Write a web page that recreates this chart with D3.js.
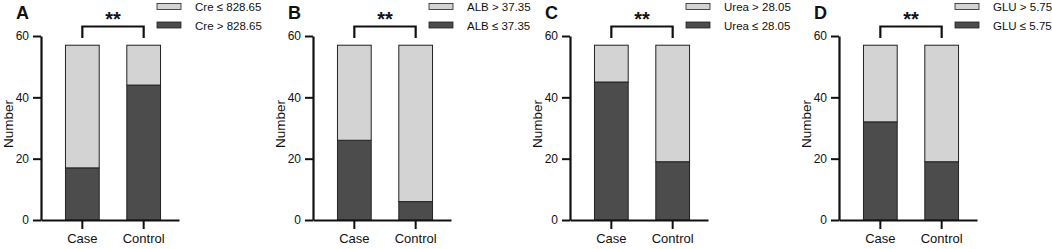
<!DOCTYPE html>
<html>
<head>
<meta charset="utf-8">
<script src="https://cdn.jsdelivr.net/npm/d3@7"></script>
<style>
  body { margin: 0; background: #fff; }
  text { font-family: "Liberation Sans", Arial, sans-serif; fill: #111; }
</style>
</head>
<body>
<div id="chart"></div>
<script>
// group names on the x axis
const groups = ["Case", "Control"];
const panelLetters = ["A", "B", "C", "D"];
// counts per panel: [Case, Control]
const darkCounts = [[17, 44], [26, 6], [45, 19], [32, 19]];
const lightCounts = [[40, 13], [31, 51], [12, 38], [25, 38]];
const lightLabels = ["Cre \u2264 828.65", "ALB > 37.35", "Urea > 28.05", "GLU > 5.75"];
const darkLabels = ["Cre > 828.65", "ALB \u2264 37.35", "Urea \u2264 28.05", "GLU \u2264 5.75"];
const sigLabels = ["**", "**", "**", "**"];
const yTicks = [0, 20, 40, 60];

const W = 1052, H = 249;
const axisLeft = [41, 313, 570, 839];   // x of each panel's y axis
const plotW = 138;
const plotTop = 36, plotBottom = 220;
const lightColor = "#d3d3d3", darkColor = "#4c4c4c", ink = "#111";

const svg = d3.select("#chart").append("svg")
  .attr("width", W)
  .attr("height", H);

const y = d3.scaleLinear().domain([0, 60]).range([plotBottom, plotTop]);

function drawPanel(p) {
  const g = svg.append("g").attr("transform", `translate(${axisLeft[p]},0)`);

  const x = d3.scaleBand()
    .domain(groups)
    .range([0, plotW])
    .paddingInner(0.45)
    .paddingOuter(0.35)
    .align(0.57);

  const rows = groups.map((grp, i) => ({ group: grp, dark: darkCounts[p][i], light: lightCounts[p][i] }));
  const stacked = d3.stack().keys(["dark", "light"])(rows);
  const fills = { dark: darkColor, light: lightColor };

  g.selectAll(".layer")
    .data(stacked)
    .enter().append("g")
    .attr("fill", d => fills[d.key])
    .selectAll("rect")
    .data(d => d)
    .enter().append("rect")
    .attr("x", d => x(d.data.group))
    .attr("width", x.bandwidth())
    .attr("y", d => y(d[1]))
    .attr("height", d => y(d[0]) - y(d[1]))
    .attr("stroke", "#222")
    .attr("stroke-width", 1);

  // y axis
  const ya = g.append("g")
    .call(d3.axisLeft(y).tickValues(yTicks).tickSize(8).tickPadding(4).tickSizeOuter(0));
  ya.select(".domain").attr("stroke", ink).attr("stroke-width", 2.2);
  ya.selectAll(".tick line").attr("stroke", ink).attr("stroke-width", 2);
  ya.selectAll(".tick text").attr("font-size", 12).attr("fill", ink)
    .style("font-family", "'Liberation Sans', Arial, sans-serif");

  // x axis
  const xa = g.append("g")
    .attr("transform", `translate(0,${plotBottom})`)
    .call(d3.axisBottom(x).tickSize(9).tickPadding(5).tickSizeOuter(0));
  xa.select(".domain").attr("stroke", ink).attr("stroke-width", 2.2);
  xa.selectAll(".tick line").attr("stroke", ink).attr("stroke-width", 2);
  xa.selectAll(".tick text").attr("font-size", 13).attr("fill", ink)
    .style("font-family", "'Liberation Sans', Arial, sans-serif");

  // y label
  g.append("text")
    .attr("transform", `translate(-28,124) rotate(-90)`)
    .attr("text-anchor", "middle")
    .attr("font-size", 13.5)
    .text("Number");

  // significance bracket
  const cx = groups.map(grp => x(grp) + x.bandwidth() / 2);
  g.append("path")
    .attr("d", `M${cx[0]},38V26.5H${cx[1]}V38`)
    .attr("fill", "none")
    .attr("stroke", ink)
    .attr("stroke-width", 2.2);
  g.append("text")
    .attr("x", (cx[0] + cx[1]) / 2)
    .attr("y", 26)
    .attr("text-anchor", "middle")
    .attr("font-size", 20)
    .attr("font-weight", "bold")
    .text(sigLabels[p]);

  // panel letter
  g.append("text")
    .attr("x", -25)
    .attr("y", 19)
    .attr("font-size", 18)
    .attr("font-weight", "bold")
    .text(panelLetters[p]);

  // legend
  const lg = g.append("g").attr("transform", `translate(${plotW - 22},0)`);
  [[lightColor, lightLabels[p]], [darkColor, darkLabels[p]]].forEach(([c, label], i) => {
    lg.append("rect")
      .attr("x", 0).attr("y", 3.5 + i * 18.5)
      .attr("width", 24).attr("height", 6)
      .attr("fill", c).attr("stroke", "#222").attr("stroke-width", 0.8);
    lg.append("text")
      .attr("x", 38).attr("y", 11 + i * 18.5)
      .attr("font-size", 11.5)
      .text(label);
  });
}

panelLetters.forEach((_, p) => drawPanel(p));
</script>
</body>
</html>
